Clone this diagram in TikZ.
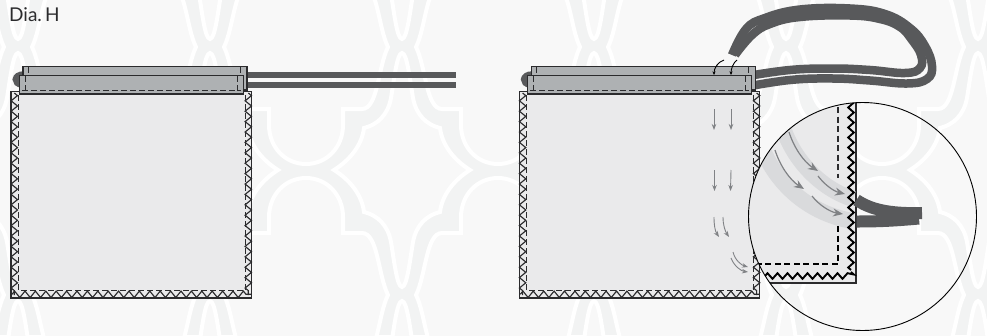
\documentclass[tikz,border=0pt]{standalone}
\usepackage{fontspec}
\setmainfont{Lato}
\usetikzlibrary{decorations.pathmorphing,arrows.meta}
\definecolor{bgcell}{HTML}{F8F8F8}
\definecolor{bgband}{HTML}{F2F3F3}
\definecolor{cordc}{HTML}{58595B}
\definecolor{fabric}{HTML}{EAEAEB}
\definecolor{bandc}{HTML}{AEB1B3}
\definecolor{inkc}{HTML}{2B2B2D}
\definecolor{arrowc}{HTML}{808285}
\definecolor{ghost}{HTML}{D9DADC}
\tikzset{
  cellline/.style={fill=bgcell,draw=white,line width=4pt,line join=miter},
  zig/.style={decorate,decoration={zigzag,segment length=10.4pt,amplitude=3.2pt},draw=inkc,line width=1.15pt},
  zigbig/.style={decorate,decoration={zigzag,segment length=10pt,amplitude=2.8pt},draw=black,line width=1.9pt},
  stitch/.style={draw=inkc,line width=.9pt,dash pattern=on 5.5pt off 3.5pt},
  stitchbig/.style={draw=black,line width=1.9pt,dash pattern=on 6pt off 3.5pt},
  cuff/.style={fill=bandc,draw=inkc,line width=1.2pt},
  cord/.style={draw=cordc,line width=8.5pt},
  thinarrow/.style={draw=arrowc,line width=.9pt,-{Stealth[length=6pt,width=4.5pt]}},
  pinarrow/.style={draw=black,line width=.9pt,-{Stealth[length=3.5pt,width=3pt]}},
  bigarrow/.style={draw=arrowc,line width=1.2pt,-{Stealth[length=10pt,width=8pt]}},
  ghostband/.style={draw=ghost,line width=16pt},
  ring/.style={draw=black,line width=.9pt}
}
\newcommand{\lattice}{%
  \fill[bgband] (0,0) rectangle (987,335);
  \foreach \cx in {18,210,402,594,786,978}{\foreach \cy in {-78,170,418}{
    \path[cellline,shift={(\cx,\cy)}] (0,-117)
      .. controls (5,-117) and (8,-90) .. (11,-72) .. controls (14,-55) and (25,-45) .. (38,-42)
      .. controls (40,-25) and (52,-10) .. (68,0) .. controls (52,10) and (40,25) .. (38,42)
      .. controls (25,45) and (14,55) .. (11,72) .. controls (8,90) and (5,117) .. (0,117)
      .. controls (-5,117) and (-8,90) .. (-11,72) .. controls (-14,55) and (-25,45) .. (-38,42)
      .. controls (-40,25) and (-52,10) .. (-68,0) .. controls (-52,-10) and (-40,-25) .. (-38,-42)
      .. controls (-25,-45) and (-14,-55) .. (-11,-72) .. controls (-8,-90) and (-5,-117) .. (0,-117) -- cycle;}}
  \foreach \cx in {-78,114,306,498,690,882,1074}{\foreach \cy in {47,295}{
    \path[cellline,shift={(\cx,\cy)}] (0,-117)
      .. controls (21,-117) and (37,-100) .. (37,-78) -- (37,-62) -- (56,-62)
      .. controls (72,-62) and (72,-20) .. (82,0) .. controls (72,20) and (72,62) .. (56,62)
      -- (37,62) -- (37,78) .. controls (37,100) and (21,117) .. (0,117)
      .. controls (-21,117) and (-37,100) .. (-37,78) -- (-37,62) -- (-56,62)
      .. controls (-72,62) and (-72,20) .. (-82,0) .. controls (-72,-20) and (-72,-62) .. (-56,-62)
      -- (-37,-62) -- (-37,-78) .. controls (-37,-100) and (-21,-117) .. (0,-117) -- cycle;}}
}
\newcommand{\bagbody}[1]{%
  \begin{scope}[shift={(#1,0)}]
    \draw[draw=cordc,line width=6.5pt] (24,74.5) .. controls (13.5,74.5) and (13.5,84) .. (22,84.5);
    \fill[fabric] (11,91) rectangle (251.5,298);
    \draw[draw=inkc,line width=.5pt] (11,91) -- (251.5,91);
    \draw[draw=inkc,line width=1.1pt] (251.5,91) -- (251.5,298) -- (11,298) -- (11,91);
    \path[zig] (14.3,93) -- (14.3,295);
    \path[zig] (248.3,93) -- (248.3,295);
    \path[zig] (12,294.3) -- (251,294.3);
    \path[stitch] (18.5,95) -- (18.5,290.5) -- (245,290.5) -- (245,95);
    \draw[cuff] (23,66.5) rectangle (247,90);
    \path[stitch] (28,67) -- (28,75);
    \path[stitch] (240.5,67) -- (240.5,75);
    \draw[cuff] (19.5,75.3) rectangle (243.5,94);
    \path[stitch] (22,90.3) -- (241,90.3);
    \path[stitch] (25.5,76) -- (25.5,93);
    \path[stitch] (237,76) -- (237,93);
  \end{scope}
}
\begin{document}
\begin{tikzpicture}[x=1pt,y=-1pt]
\useasboundingbox (0,0) rectangle (987,335);
\begin{scope}
  \clip (0,0) rectangle (987,335);
  \lattice
\end{scope}
% left straight cords
\fill[cordc] (240,72) rectangle (456,78);
\fill[cordc] (240,82) rectangle (456,88);
% right looped cords
\path[cord] plot[smooth,tension=.7] coordinates {(745,87) (790,80) (833,78.5) (870,80.5) (907,83.5) (927,79) (932,66) (925,46) (910,28) (885,14) (850,8.5) (800,9.5) (765,18) (746,29) (732,55)};
\path[cord] plot[smooth,tension=.7] coordinates {(745,76.5) (790,70) (833,68.5) (870,70) (905,73) (920,68) (921,55) (912,40) (900,27) (880,19) (850,15.5) (800,17) (770,24) (752,35) (735,55)};
\bagbody{0}
\bagbody{508.3}
% small arrows on right bag
\draw[pinarrow] (724,60) .. controls (718,62) and (714,68) .. (714,75);
\draw[pinarrow] (737,60) .. controls (733,63) and (731,69) .. (731,75);
\draw[thinarrow] (714,109) -- (714,130);
\draw[thinarrow] (731,109) -- (731,130);
\draw[thinarrow] (714.5,170) -- (714.5,191);
\draw[thinarrow] (731,170) -- (730.5,191);
\draw[thinarrow] (714,217) .. controls (714,225) and (715,231) .. (719,237);
\draw[thinarrow] (723,217) .. controls (723,225) and (725,231) .. (729,237);
\draw[thinarrow] (733,252) .. controls (735,260) and (741,265) .. (748,267);
\draw[thinarrow] (731,258) .. controls (734,266) and (741,271) .. (748,272);
% magnifier
\begin{scope}
  \clip (862.5,216.5) circle[radius=114];
  \lattice
  \fill[fabric] (740,100) rectangle (856,283);
  \draw[draw=inkc,line width=1.1pt] (856,100) -- (856,283) -- (740,283);
  \path[ghostband] (782,125) .. controls (795,165) and (825,190) .. (853,199);
  \path[ghostband] (763,150) .. controls (780,190) and (815,215) .. (853,221);
  \path[stitch,line width=1.2pt,dash pattern=on 6pt off 3.5pt] (838,107) -- (838,178);
  \path[stitchbig] (838,226) -- (838,263.7) -- (750,263.7);
  \path[zigbig] (851,100) -- (851,270);
  \path[zigbig] (851,272) -- (851,276) -- (760,276);
  \draw[bigarrow] (789,132) .. controls (794,148) and (804,162) .. (818,171);
  \draw[bigarrow] (818,176) .. controls (824,184) and (833,191) .. (845,194);
  \draw[bigarrow] (775,150) .. controls (780,166) and (790,180) .. (804,189);
  \draw[bigarrow] (812,196) .. controls (819,205) and (830,212) .. (843,214);
  \draw[draw=cordc,line width=12pt] (856.5,200) .. controls (870,209) and (888,214) .. (922,213);
  \draw[draw=cordc,line width=12pt] (856.5,221.5) .. controls (875,221.5) and (892,221) .. (919,218.5);
\end{scope}
\path[ring] (862.5,216.5) circle[radius=114];
\node[anchor=base west,inner sep=0pt,text=inkc,font=\fontsize{19}{21}\selectfont] (title) at (9,21) {Dia.\,H};
\end{tikzpicture}
\end{document}
